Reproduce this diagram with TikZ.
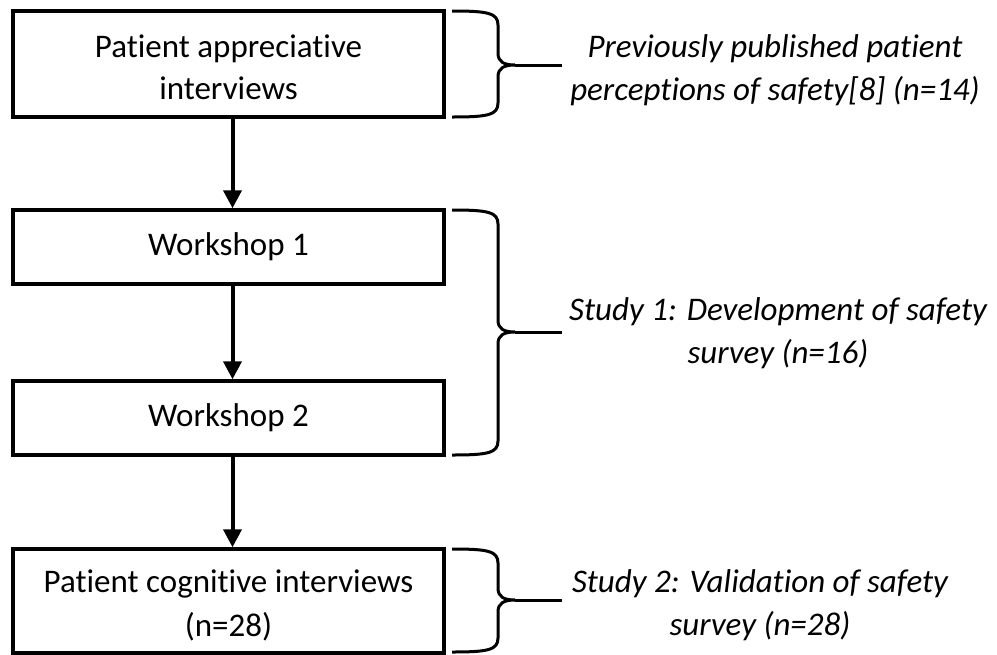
\documentclass[tikz,border=0pt]{standalone}
\usepackage{fontspec}
\setmainfont{Carlito}[RawFeature={-liga;-clig;-calt;-dlig}]
\usetikzlibrary{arrows.meta}
% curly brace on the right of a group of stages: top y, tip y, bottom y
\newcommand\studybrace[3]{%
  \draw[bracestroke] (452,#1) .. controls (488,#1) and (498,#1+2) .. (498,#1+14)
    -- (498,#2-12) .. controls (498,#2-3) and (504,#2) .. (515,#2)
    .. controls (504,#2) and (498,#2+3) .. (498,#2+12)
    -- (498,#3-14) .. controls (498,#3-2) and (488,#3) .. (452,#3);
  \draw[bracestroke] (515,#2) -- (562,#2);}
% lower a text block without changing its size
\newcommand\lowered[2]{\raisebox{-#1}[\height][\depth]{#2}}
\begin{document}
\begin{tikzpicture}[x=1pt,y=-1pt,
  stage/.style={draw, line width=3.5pt, minimum width=431pt, inner sep=0pt,
    align=center, font=\fontsize{33}{42}\selectfont},
  note/.style={align=center, font=\fontsize{33}{43}\selectfont\itshape},
  flow/.style={line width=4pt, -{Triangle[width=18pt,length=18pt]}},
  bracestroke/.style={line width=3pt}]
\useasboundingbox (0,0) rectangle (997,654);

% process stages
\node[stage, minimum height=106pt] (b1) at (228.5,64) {\lowered{3pt}{\parbox{400pt}{\centering Patient appreciative\\interviews}}};
\node[stage, minimum height=74pt] (b2) at (228.5,247) {Workshop 1};
\node[stage, minimum height=74pt] (b3) at (228.5,418) {Workshop 2};
\node[stage, minimum height=104pt] (b4) at (228.5,601) {\lowered{4pt}{\parbox{400pt}{\centering\baselineskip=44pt Patient cognitive interviews\\(n=28)}}};

% flow between stages
\draw[flow] ([xshift=4pt]b1.south) -- ([xshift=4pt]b2.north);
\draw[flow] ([xshift=4pt]b2.south) -- ([xshift=4pt]b3.north);
\draw[flow] ([xshift=4pt]b3.south) -- ([xshift=4pt]b4.north);

% braces grouping the stages
\studybrace{11}{65}{117}
\studybrace{210}{332}{455}
\studybrace{549}{600}{652}

% study labels
\node[note] (n1) at (775,70) {Previously published patient\\perceptions of safety[8] (n=14)};
\node[note] (n2) at (778,333) {Study 1: Development of safety\\survey (n=16)};
\node[note] (n3) at (760,605) {Study 2: Validation of safety\\survey (n=28)};
\end{tikzpicture}
\end{document}
